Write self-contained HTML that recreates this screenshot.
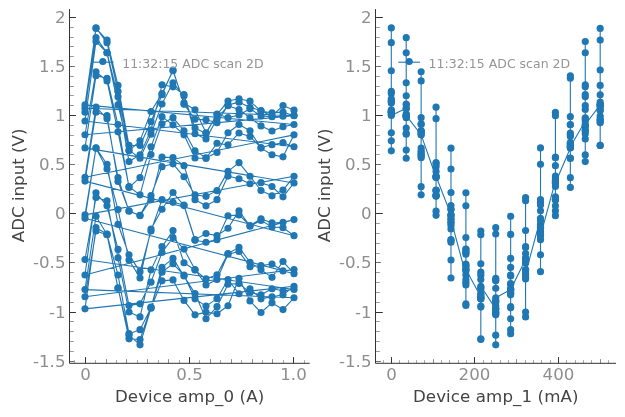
<!DOCTYPE html>
<html lang="en"><head><meta charset="utf-8"><title>ADC scan 2D</title>
<style>html,body{margin:0;padding:0;background:#fff}body{width:625px;height:417px;overflow:hidden}</style>
</head><body>
<svg width="625" height="417" viewBox="0 0 625 417" style="display:block">
<rect width="625" height="417" fill="#fff"/>
<g font-family='"DejaVu Sans", "Liberation Sans", sans-serif'>
<line x1="69.50" x2="74.90" y1="361.50" y2="361.50" stroke="#6e6e6e" stroke-width="1"/>
<text x="65.50" y="367.20" text-anchor="end" fill="#8e8e8e" font-size="16.67">-1.5</text>
<line x1="69.50" x2="73.80" y1="351.50" y2="351.50" stroke="#9a9a9a" stroke-width="1"/>
<line x1="69.50" x2="73.80" y1="341.50" y2="341.50" stroke="#9a9a9a" stroke-width="1"/>
<line x1="69.50" x2="73.80" y1="331.50" y2="331.50" stroke="#9a9a9a" stroke-width="1"/>
<line x1="69.50" x2="73.80" y1="321.50" y2="321.50" stroke="#9a9a9a" stroke-width="1"/>
<line x1="69.50" x2="75.90" y1="312.50" y2="312.50" stroke="#333333" stroke-width="1"/>
<text x="65.50" y="318.20" text-anchor="end" fill="#8e8e8e" font-size="16.67">-1</text>
<line x1="69.50" x2="73.80" y1="302.50" y2="302.50" stroke="#9a9a9a" stroke-width="1"/>
<line x1="69.50" x2="73.80" y1="292.50" y2="292.50" stroke="#9a9a9a" stroke-width="1"/>
<line x1="69.50" x2="73.80" y1="282.50" y2="282.50" stroke="#9a9a9a" stroke-width="1"/>
<line x1="69.50" x2="73.80" y1="272.50" y2="272.50" stroke="#9a9a9a" stroke-width="1"/>
<line x1="69.50" x2="74.90" y1="262.50" y2="262.50" stroke="#6e6e6e" stroke-width="1"/>
<text x="65.50" y="268.20" text-anchor="end" fill="#8e8e8e" font-size="16.67">-0.5</text>
<line x1="69.50" x2="73.80" y1="253.50" y2="253.50" stroke="#9a9a9a" stroke-width="1"/>
<line x1="69.50" x2="73.80" y1="243.50" y2="243.50" stroke="#9a9a9a" stroke-width="1"/>
<line x1="69.50" x2="73.80" y1="233.50" y2="233.50" stroke="#9a9a9a" stroke-width="1"/>
<line x1="69.50" x2="73.80" y1="223.50" y2="223.50" stroke="#9a9a9a" stroke-width="1"/>
<line x1="69.50" x2="75.90" y1="213.50" y2="213.50" stroke="#333333" stroke-width="1"/>
<text x="65.50" y="219.20" text-anchor="end" fill="#8e8e8e" font-size="16.67">0</text>
<line x1="69.50" x2="73.80" y1="203.50" y2="203.50" stroke="#9a9a9a" stroke-width="1"/>
<line x1="69.50" x2="73.80" y1="194.50" y2="194.50" stroke="#9a9a9a" stroke-width="1"/>
<line x1="69.50" x2="73.80" y1="184.50" y2="184.50" stroke="#9a9a9a" stroke-width="1"/>
<line x1="69.50" x2="73.80" y1="174.50" y2="174.50" stroke="#9a9a9a" stroke-width="1"/>
<line x1="69.50" x2="74.90" y1="164.50" y2="164.50" stroke="#6e6e6e" stroke-width="1"/>
<text x="65.50" y="170.20" text-anchor="end" fill="#8e8e8e" font-size="16.67">0.5</text>
<line x1="69.50" x2="73.80" y1="154.50" y2="154.50" stroke="#9a9a9a" stroke-width="1"/>
<line x1="69.50" x2="73.80" y1="145.50" y2="145.50" stroke="#9a9a9a" stroke-width="1"/>
<line x1="69.50" x2="73.80" y1="135.50" y2="135.50" stroke="#9a9a9a" stroke-width="1"/>
<line x1="69.50" x2="73.80" y1="125.50" y2="125.50" stroke="#9a9a9a" stroke-width="1"/>
<line x1="69.50" x2="75.90" y1="115.50" y2="115.50" stroke="#333333" stroke-width="1"/>
<text x="65.50" y="121.20" text-anchor="end" fill="#8e8e8e" font-size="16.67">1</text>
<line x1="69.50" x2="73.80" y1="105.50" y2="105.50" stroke="#9a9a9a" stroke-width="1"/>
<line x1="69.50" x2="73.80" y1="95.50" y2="95.50" stroke="#9a9a9a" stroke-width="1"/>
<line x1="69.50" x2="73.80" y1="86.50" y2="86.50" stroke="#9a9a9a" stroke-width="1"/>
<line x1="69.50" x2="73.80" y1="76.50" y2="76.50" stroke="#9a9a9a" stroke-width="1"/>
<line x1="69.50" x2="74.90" y1="66.50" y2="66.50" stroke="#6e6e6e" stroke-width="1"/>
<text x="65.50" y="72.20" text-anchor="end" fill="#8e8e8e" font-size="16.67">1.5</text>
<line x1="69.50" x2="73.80" y1="56.50" y2="56.50" stroke="#9a9a9a" stroke-width="1"/>
<line x1="69.50" x2="73.80" y1="46.50" y2="46.50" stroke="#9a9a9a" stroke-width="1"/>
<line x1="69.50" x2="73.80" y1="37.50" y2="37.50" stroke="#9a9a9a" stroke-width="1"/>
<line x1="69.50" x2="73.80" y1="27.50" y2="27.50" stroke="#9a9a9a" stroke-width="1"/>
<line x1="69.50" x2="75.90" y1="17.50" y2="17.50" stroke="#333333" stroke-width="1"/>
<text x="65.50" y="23.20" text-anchor="end" fill="#8e8e8e" font-size="16.67">2</text>
<line x1="74.50" x2="74.50" y1="363.30" y2="360.10" stroke="#a0a0a0" stroke-width="0.9"/>
<line x1="85.50" x2="85.50" y1="363.30" y2="357.10" stroke="#333333" stroke-width="1"/>
<text x="85.50" y="380.25" text-anchor="middle" fill="#8e8e8e" font-size="16.67">0</text>
<line x1="95.50" x2="95.50" y1="363.30" y2="360.10" stroke="#a0a0a0" stroke-width="0.9"/>
<line x1="106.50" x2="106.50" y1="363.30" y2="359.10" stroke="#808080" stroke-width="0.9"/>
<line x1="116.50" x2="116.50" y1="363.30" y2="360.10" stroke="#a0a0a0" stroke-width="0.9"/>
<line x1="126.50" x2="126.50" y1="363.30" y2="359.10" stroke="#808080" stroke-width="0.9"/>
<line x1="137.50" x2="137.50" y1="363.30" y2="360.10" stroke="#a0a0a0" stroke-width="0.9"/>
<line x1="147.50" x2="147.50" y1="363.30" y2="359.10" stroke="#808080" stroke-width="0.9"/>
<line x1="158.50" x2="158.50" y1="363.30" y2="360.10" stroke="#a0a0a0" stroke-width="0.9"/>
<line x1="168.50" x2="168.50" y1="363.30" y2="359.10" stroke="#808080" stroke-width="0.9"/>
<line x1="179.50" x2="179.50" y1="363.30" y2="360.10" stroke="#a0a0a0" stroke-width="0.9"/>
<line x1="189.50" x2="189.50" y1="363.30" y2="357.10" stroke="#333333" stroke-width="1"/>
<text x="189.50" y="380.25" text-anchor="middle" fill="#8e8e8e" font-size="16.67">0.5</text>
<line x1="199.50" x2="199.50" y1="363.30" y2="360.10" stroke="#a0a0a0" stroke-width="0.9"/>
<line x1="210.50" x2="210.50" y1="363.30" y2="359.10" stroke="#808080" stroke-width="0.9"/>
<line x1="220.50" x2="220.50" y1="363.30" y2="360.10" stroke="#a0a0a0" stroke-width="0.9"/>
<line x1="231.50" x2="231.50" y1="363.30" y2="359.10" stroke="#808080" stroke-width="0.9"/>
<line x1="241.50" x2="241.50" y1="363.30" y2="360.10" stroke="#a0a0a0" stroke-width="0.9"/>
<line x1="252.50" x2="252.50" y1="363.30" y2="359.10" stroke="#808080" stroke-width="0.9"/>
<line x1="262.50" x2="262.50" y1="363.30" y2="360.10" stroke="#a0a0a0" stroke-width="0.9"/>
<line x1="272.50" x2="272.50" y1="363.30" y2="359.10" stroke="#808080" stroke-width="0.9"/>
<line x1="283.50" x2="283.50" y1="363.30" y2="360.10" stroke="#a0a0a0" stroke-width="0.9"/>
<line x1="293.50" x2="293.50" y1="363.30" y2="357.10" stroke="#333333" stroke-width="1"/>
<text x="293.50" y="380.25" text-anchor="middle" fill="#8e8e8e" font-size="16.67">1.0</text>
<line x1="304.50" x2="304.50" y1="363.30" y2="360.10" stroke="#a0a0a0" stroke-width="0.9"/>
<path d="M69.50 9.10V363.30H309.70" fill="none" stroke="#333333" stroke-width="1"/>
<text x="189.60" y="402" text-anchor="middle" fill="#444444" font-size="16.67" letter-spacing="0.09">Device amp_0 (A)</text>
<text transform="translate(24.30 185.40) rotate(-90)" text-anchor="middle" fill="#444444" font-size="16.67">ADC input (V)</text>
<polyline points="85.00,112.26 96.00,27.91 107.00,42.64 118.00,91.44 129.00,150.86 140.00,140.84 151.00,111.58 162.00,93.60 173.00,70.72 184.00,102.93 195.00,109.81 206.00,132.79 217.00,114.62 228.00,100.97 239.00,98.71 250.00,101.17 261.00,111.18 272.00,112.85 283.00,112.16 294.00,115.50 85.00,108.24 96.00,37.63 107.00,52.85 118.00,104.90 129.00,150.07 140.00,158.22 151.00,134.16 162.00,104.01 173.00,82.80 184.00,95.77 195.00,128.07 206.00,133.38 217.00,114.03 228.00,117.66 239.00,114.91 250.00,108.83 261.00,115.90 272.00,116.78 283.00,116.19 294.00,115.70 85.00,134.75 96.00,71.71 107.00,80.94 118.00,131.80 129.00,186.70 140.00,194.85 151.00,154.59 162.00,123.85 173.00,117.66 184.00,130.82 195.00,150.95 206.00,157.73 217.00,152.43 228.00,132.79 239.00,124.54 250.00,130.72 261.00,148.11 272.00,154.78 283.00,156.85 294.00,134.85 85.00,177.27 96.00,107.16 107.00,118.65 118.00,177.57 129.00,211.15 140.00,215.37 151.00,195.54 162.00,166.67 173.00,163.82 184.00,176.78 195.00,194.95 206.00,196.32 217.00,190.63 228.00,171.38 239.00,162.64 250.00,176.29 261.00,190.53 272.00,195.83 283.00,190.04 294.00,176.29 85.00,214.88 96.00,148.20 107.00,169.02 118.00,209.58 129.00,259.96 140.00,278.02 151.00,229.02 162.00,209.28 173.00,192.49 184.00,205.55 195.00,240.32 206.00,242.28 217.00,239.63 228.00,215.77 239.00,214.88 250.00,225.59 261.00,218.81 272.00,222.93 283.00,222.25 294.00,219.60 85.00,274.98 96.00,192.79 107.00,205.85 118.00,249.45 129.00,305.52 140.00,303.85 151.00,282.15 162.00,252.49 173.00,237.57 184.00,249.06 195.00,269.48 206.00,284.90 217.00,279.50 228.00,254.16 239.00,251.51 250.00,266.63 261.00,265.55 272.00,263.98 283.00,270.95 294.00,269.58 85.00,296.78 96.00,230.99 107.00,234.72 118.00,287.75 129.00,338.81 140.00,339.50 151.00,307.09 162.00,272.13 173.00,263.79 184.00,275.18 195.00,298.84 206.00,306.11 217.00,298.65 228.00,279.50 239.00,293.74 250.00,288.83 261.00,298.84 272.00,296.78 283.00,294.82 294.00,286.27 85.00,308.86 96.00,227.65 107.00,234.03 118.00,288.24 129.00,335.18 140.00,344.80 151.00,308.17 162.00,280.87 173.00,279.89 184.00,300.41 195.00,314.85 206.00,312.10 217.00,313.77 228.00,305.72 239.00,278.22 250.00,300.91 261.00,312.49 272.00,302.87 283.00,309.55 294.00,297.76 85.00,289.61 96.00,216.26 107.00,234.42 118.00,274.98 129.00,333.70 140.00,329.68 151.00,307.68 162.00,267.42 173.00,258.38 184.00,275.96 195.00,293.64 206.00,318.78 217.00,306.70 228.00,284.21 239.00,283.62 250.00,292.46 261.00,294.82 272.00,288.73 283.00,290.79 294.00,289.42 85.00,259.56 96.00,197.50 107.00,200.84 118.00,257.80 129.00,312.00 140.00,316.91 151.00,269.87 162.00,246.70 173.00,230.59 184.00,262.71 195.00,270.07 206.00,278.91 217.00,274.78 228.00,253.47 239.00,247.39 250.00,262.21 261.00,269.87 272.00,277.34 283.00,261.53 294.00,273.70 85.00,218.32 96.00,147.91 107.00,164.31 118.00,224.31 129.00,254.85 140.00,271.64 151.00,230.99 162.00,199.66 173.00,202.31 184.00,205.06 195.00,239.63 206.00,233.54 217.00,235.60 228.00,228.24 239.00,210.86 250.00,226.18 261.00,220.38 272.00,226.96 283.00,227.65 294.00,235.70 85.00,181.10 96.00,112.26 107.00,115.70 118.00,181.40 129.00,210.76 140.00,215.67 151.00,199.56 162.00,157.14 173.00,157.63 184.00,165.68 195.00,199.66 206.00,205.85 217.00,199.66 228.00,176.09 239.00,178.74 250.00,183.75 261.00,182.67 272.00,186.50 283.00,196.81 294.00,182.97 85.00,147.91 96.00,75.73 107.00,78.29 118.00,124.54 129.00,187.39 140.00,177.66 151.00,146.83 162.00,116.68 173.00,124.83 184.00,134.85 195.00,158.02 206.00,158.42 217.00,143.29 228.00,144.87 239.00,132.98 250.00,136.52 261.00,147.52 272.00,144.67 283.00,142.70 294.00,146.73 85.00,121.00 96.00,41.46 107.00,52.75 118.00,96.85 129.00,161.56 140.00,154.88 151.00,130.14 162.00,84.77 173.00,86.83 184.00,94.59 195.00,133.77 206.00,138.88 217.00,118.74 228.00,105.68 239.00,109.51 250.00,117.76 261.00,125.91 272.00,131.02 283.00,126.70 294.00,124.54 85.00,104.90 96.00,28.40 107.00,40.09 118.00,85.45 129.00,145.45 140.00,145.45 151.00,121.69 162.00,94.78 173.00,70.04 184.00,104.31 195.00,119.24 206.00,119.82 217.00,122.77 228.00,105.09 239.00,102.15 250.00,107.35 261.00,110.59 272.00,116.19 283.00,105.49 294.00,110.20" fill="none" stroke="#1f77b4" stroke-width="1.1" stroke-linejoin="round"/>
<g fill="#1f77b4"><circle cx="85.00" cy="112.26" r="3.58"/><circle cx="96.00" cy="27.91" r="3.58"/><circle cx="107.00" cy="42.64" r="3.58"/><circle cx="118.00" cy="91.44" r="3.58"/><circle cx="129.00" cy="150.86" r="3.58"/><circle cx="140.00" cy="140.84" r="3.58"/><circle cx="151.00" cy="111.58" r="3.58"/><circle cx="162.00" cy="93.60" r="3.58"/><circle cx="173.00" cy="70.72" r="3.58"/><circle cx="184.00" cy="102.93" r="3.58"/><circle cx="195.00" cy="109.81" r="3.58"/><circle cx="206.00" cy="132.79" r="3.58"/><circle cx="217.00" cy="114.62" r="3.58"/><circle cx="228.00" cy="100.97" r="3.58"/><circle cx="239.00" cy="98.71" r="3.58"/><circle cx="250.00" cy="101.17" r="3.58"/><circle cx="261.00" cy="111.18" r="3.58"/><circle cx="272.00" cy="112.85" r="3.58"/><circle cx="283.00" cy="112.16" r="3.58"/><circle cx="294.00" cy="115.50" r="3.58"/><circle cx="85.00" cy="108.24" r="3.58"/><circle cx="96.00" cy="37.63" r="3.58"/><circle cx="107.00" cy="52.85" r="3.58"/><circle cx="118.00" cy="104.90" r="3.58"/><circle cx="129.00" cy="150.07" r="3.58"/><circle cx="140.00" cy="158.22" r="3.58"/><circle cx="151.00" cy="134.16" r="3.58"/><circle cx="162.00" cy="104.01" r="3.58"/><circle cx="173.00" cy="82.80" r="3.58"/><circle cx="184.00" cy="95.77" r="3.58"/><circle cx="195.00" cy="128.07" r="3.58"/><circle cx="206.00" cy="133.38" r="3.58"/><circle cx="217.00" cy="114.03" r="3.58"/><circle cx="228.00" cy="117.66" r="3.58"/><circle cx="239.00" cy="114.91" r="3.58"/><circle cx="250.00" cy="108.83" r="3.58"/><circle cx="261.00" cy="115.90" r="3.58"/><circle cx="272.00" cy="116.78" r="3.58"/><circle cx="283.00" cy="116.19" r="3.58"/><circle cx="294.00" cy="115.70" r="3.58"/><circle cx="85.00" cy="134.75" r="3.58"/><circle cx="96.00" cy="71.71" r="3.58"/><circle cx="107.00" cy="80.94" r="3.58"/><circle cx="118.00" cy="131.80" r="3.58"/><circle cx="129.00" cy="186.70" r="3.58"/><circle cx="140.00" cy="194.85" r="3.58"/><circle cx="151.00" cy="154.59" r="3.58"/><circle cx="162.00" cy="123.85" r="3.58"/><circle cx="173.00" cy="117.66" r="3.58"/><circle cx="184.00" cy="130.82" r="3.58"/><circle cx="195.00" cy="150.95" r="3.58"/><circle cx="206.00" cy="157.73" r="3.58"/><circle cx="217.00" cy="152.43" r="3.58"/><circle cx="228.00" cy="132.79" r="3.58"/><circle cx="239.00" cy="124.54" r="3.58"/><circle cx="250.00" cy="130.72" r="3.58"/><circle cx="261.00" cy="148.11" r="3.58"/><circle cx="272.00" cy="154.78" r="3.58"/><circle cx="283.00" cy="156.85" r="3.58"/><circle cx="294.00" cy="134.85" r="3.58"/><circle cx="85.00" cy="177.27" r="3.58"/><circle cx="96.00" cy="107.16" r="3.58"/><circle cx="107.00" cy="118.65" r="3.58"/><circle cx="118.00" cy="177.57" r="3.58"/><circle cx="129.00" cy="211.15" r="3.58"/><circle cx="140.00" cy="215.37" r="3.58"/><circle cx="151.00" cy="195.54" r="3.58"/><circle cx="162.00" cy="166.67" r="3.58"/><circle cx="173.00" cy="163.82" r="3.58"/><circle cx="184.00" cy="176.78" r="3.58"/><circle cx="195.00" cy="194.95" r="3.58"/><circle cx="206.00" cy="196.32" r="3.58"/><circle cx="217.00" cy="190.63" r="3.58"/><circle cx="228.00" cy="171.38" r="3.58"/><circle cx="239.00" cy="162.64" r="3.58"/><circle cx="250.00" cy="176.29" r="3.58"/><circle cx="261.00" cy="190.53" r="3.58"/><circle cx="272.00" cy="195.83" r="3.58"/><circle cx="283.00" cy="190.04" r="3.58"/><circle cx="294.00" cy="176.29" r="3.58"/><circle cx="85.00" cy="214.88" r="3.58"/><circle cx="96.00" cy="148.20" r="3.58"/><circle cx="107.00" cy="169.02" r="3.58"/><circle cx="118.00" cy="209.58" r="3.58"/><circle cx="129.00" cy="259.96" r="3.58"/><circle cx="140.00" cy="278.02" r="3.58"/><circle cx="151.00" cy="229.02" r="3.58"/><circle cx="162.00" cy="209.28" r="3.58"/><circle cx="173.00" cy="192.49" r="3.58"/><circle cx="184.00" cy="205.55" r="3.58"/><circle cx="195.00" cy="240.32" r="3.58"/><circle cx="206.00" cy="242.28" r="3.58"/><circle cx="217.00" cy="239.63" r="3.58"/><circle cx="228.00" cy="215.77" r="3.58"/><circle cx="239.00" cy="214.88" r="3.58"/><circle cx="250.00" cy="225.59" r="3.58"/><circle cx="261.00" cy="218.81" r="3.58"/><circle cx="272.00" cy="222.93" r="3.58"/><circle cx="283.00" cy="222.25" r="3.58"/><circle cx="294.00" cy="219.60" r="3.58"/><circle cx="85.00" cy="274.98" r="3.58"/><circle cx="96.00" cy="192.79" r="3.58"/><circle cx="107.00" cy="205.85" r="3.58"/><circle cx="118.00" cy="249.45" r="3.58"/><circle cx="129.00" cy="305.52" r="3.58"/><circle cx="140.00" cy="303.85" r="3.58"/><circle cx="151.00" cy="282.15" r="3.58"/><circle cx="162.00" cy="252.49" r="3.58"/><circle cx="173.00" cy="237.57" r="3.58"/><circle cx="184.00" cy="249.06" r="3.58"/><circle cx="195.00" cy="269.48" r="3.58"/><circle cx="206.00" cy="284.90" r="3.58"/><circle cx="217.00" cy="279.50" r="3.58"/><circle cx="228.00" cy="254.16" r="3.58"/><circle cx="239.00" cy="251.51" r="3.58"/><circle cx="250.00" cy="266.63" r="3.58"/><circle cx="261.00" cy="265.55" r="3.58"/><circle cx="272.00" cy="263.98" r="3.58"/><circle cx="283.00" cy="270.95" r="3.58"/><circle cx="294.00" cy="269.58" r="3.58"/><circle cx="85.00" cy="296.78" r="3.58"/><circle cx="96.00" cy="230.99" r="3.58"/><circle cx="107.00" cy="234.72" r="3.58"/><circle cx="118.00" cy="287.75" r="3.58"/><circle cx="129.00" cy="338.81" r="3.58"/><circle cx="140.00" cy="339.50" r="3.58"/><circle cx="151.00" cy="307.09" r="3.58"/><circle cx="162.00" cy="272.13" r="3.58"/><circle cx="173.00" cy="263.79" r="3.58"/><circle cx="184.00" cy="275.18" r="3.58"/><circle cx="195.00" cy="298.84" r="3.58"/><circle cx="206.00" cy="306.11" r="3.58"/><circle cx="217.00" cy="298.65" r="3.58"/><circle cx="228.00" cy="279.50" r="3.58"/><circle cx="239.00" cy="293.74" r="3.58"/><circle cx="250.00" cy="288.83" r="3.58"/><circle cx="261.00" cy="298.84" r="3.58"/><circle cx="272.00" cy="296.78" r="3.58"/><circle cx="283.00" cy="294.82" r="3.58"/><circle cx="294.00" cy="286.27" r="3.58"/><circle cx="85.00" cy="308.86" r="3.58"/><circle cx="96.00" cy="227.65" r="3.58"/><circle cx="107.00" cy="234.03" r="3.58"/><circle cx="118.00" cy="288.24" r="3.58"/><circle cx="129.00" cy="335.18" r="3.58"/><circle cx="140.00" cy="344.80" r="3.58"/><circle cx="151.00" cy="308.17" r="3.58"/><circle cx="162.00" cy="280.87" r="3.58"/><circle cx="173.00" cy="279.89" r="3.58"/><circle cx="184.00" cy="300.41" r="3.58"/><circle cx="195.00" cy="314.85" r="3.58"/><circle cx="206.00" cy="312.10" r="3.58"/><circle cx="217.00" cy="313.77" r="3.58"/><circle cx="228.00" cy="305.72" r="3.58"/><circle cx="239.00" cy="278.22" r="3.58"/><circle cx="250.00" cy="300.91" r="3.58"/><circle cx="261.00" cy="312.49" r="3.58"/><circle cx="272.00" cy="302.87" r="3.58"/><circle cx="283.00" cy="309.55" r="3.58"/><circle cx="294.00" cy="297.76" r="3.58"/><circle cx="85.00" cy="289.61" r="3.58"/><circle cx="96.00" cy="216.26" r="3.58"/><circle cx="107.00" cy="234.42" r="3.58"/><circle cx="118.00" cy="274.98" r="3.58"/><circle cx="129.00" cy="333.70" r="3.58"/><circle cx="140.00" cy="329.68" r="3.58"/><circle cx="151.00" cy="307.68" r="3.58"/><circle cx="162.00" cy="267.42" r="3.58"/><circle cx="173.00" cy="258.38" r="3.58"/><circle cx="184.00" cy="275.96" r="3.58"/><circle cx="195.00" cy="293.64" r="3.58"/><circle cx="206.00" cy="318.78" r="3.58"/><circle cx="217.00" cy="306.70" r="3.58"/><circle cx="228.00" cy="284.21" r="3.58"/><circle cx="239.00" cy="283.62" r="3.58"/><circle cx="250.00" cy="292.46" r="3.58"/><circle cx="261.00" cy="294.82" r="3.58"/><circle cx="272.00" cy="288.73" r="3.58"/><circle cx="283.00" cy="290.79" r="3.58"/><circle cx="294.00" cy="289.42" r="3.58"/><circle cx="85.00" cy="259.56" r="3.58"/><circle cx="96.00" cy="197.50" r="3.58"/><circle cx="107.00" cy="200.84" r="3.58"/><circle cx="118.00" cy="257.80" r="3.58"/><circle cx="129.00" cy="312.00" r="3.58"/><circle cx="140.00" cy="316.91" r="3.58"/><circle cx="151.00" cy="269.87" r="3.58"/><circle cx="162.00" cy="246.70" r="3.58"/><circle cx="173.00" cy="230.59" r="3.58"/><circle cx="184.00" cy="262.71" r="3.58"/><circle cx="195.00" cy="270.07" r="3.58"/><circle cx="206.00" cy="278.91" r="3.58"/><circle cx="217.00" cy="274.78" r="3.58"/><circle cx="228.00" cy="253.47" r="3.58"/><circle cx="239.00" cy="247.39" r="3.58"/><circle cx="250.00" cy="262.21" r="3.58"/><circle cx="261.00" cy="269.87" r="3.58"/><circle cx="272.00" cy="277.34" r="3.58"/><circle cx="283.00" cy="261.53" r="3.58"/><circle cx="294.00" cy="273.70" r="3.58"/><circle cx="85.00" cy="218.32" r="3.58"/><circle cx="96.00" cy="147.91" r="3.58"/><circle cx="107.00" cy="164.31" r="3.58"/><circle cx="118.00" cy="224.31" r="3.58"/><circle cx="129.00" cy="254.85" r="3.58"/><circle cx="140.00" cy="271.64" r="3.58"/><circle cx="151.00" cy="230.99" r="3.58"/><circle cx="162.00" cy="199.66" r="3.58"/><circle cx="173.00" cy="202.31" r="3.58"/><circle cx="184.00" cy="205.06" r="3.58"/><circle cx="195.00" cy="239.63" r="3.58"/><circle cx="206.00" cy="233.54" r="3.58"/><circle cx="217.00" cy="235.60" r="3.58"/><circle cx="228.00" cy="228.24" r="3.58"/><circle cx="239.00" cy="210.86" r="3.58"/><circle cx="250.00" cy="226.18" r="3.58"/><circle cx="261.00" cy="220.38" r="3.58"/><circle cx="272.00" cy="226.96" r="3.58"/><circle cx="283.00" cy="227.65" r="3.58"/><circle cx="294.00" cy="235.70" r="3.58"/><circle cx="85.00" cy="181.10" r="3.58"/><circle cx="96.00" cy="112.26" r="3.58"/><circle cx="107.00" cy="115.70" r="3.58"/><circle cx="118.00" cy="181.40" r="3.58"/><circle cx="129.00" cy="210.76" r="3.58"/><circle cx="140.00" cy="215.67" r="3.58"/><circle cx="151.00" cy="199.56" r="3.58"/><circle cx="162.00" cy="157.14" r="3.58"/><circle cx="173.00" cy="157.63" r="3.58"/><circle cx="184.00" cy="165.68" r="3.58"/><circle cx="195.00" cy="199.66" r="3.58"/><circle cx="206.00" cy="205.85" r="3.58"/><circle cx="217.00" cy="199.66" r="3.58"/><circle cx="228.00" cy="176.09" r="3.58"/><circle cx="239.00" cy="178.74" r="3.58"/><circle cx="250.00" cy="183.75" r="3.58"/><circle cx="261.00" cy="182.67" r="3.58"/><circle cx="272.00" cy="186.50" r="3.58"/><circle cx="283.00" cy="196.81" r="3.58"/><circle cx="294.00" cy="182.97" r="3.58"/><circle cx="85.00" cy="147.91" r="3.58"/><circle cx="96.00" cy="75.73" r="3.58"/><circle cx="107.00" cy="78.29" r="3.58"/><circle cx="118.00" cy="124.54" r="3.58"/><circle cx="129.00" cy="187.39" r="3.58"/><circle cx="140.00" cy="177.66" r="3.58"/><circle cx="151.00" cy="146.83" r="3.58"/><circle cx="162.00" cy="116.68" r="3.58"/><circle cx="173.00" cy="124.83" r="3.58"/><circle cx="184.00" cy="134.85" r="3.58"/><circle cx="195.00" cy="158.02" r="3.58"/><circle cx="206.00" cy="158.42" r="3.58"/><circle cx="217.00" cy="143.29" r="3.58"/><circle cx="228.00" cy="144.87" r="3.58"/><circle cx="239.00" cy="132.98" r="3.58"/><circle cx="250.00" cy="136.52" r="3.58"/><circle cx="261.00" cy="147.52" r="3.58"/><circle cx="272.00" cy="144.67" r="3.58"/><circle cx="283.00" cy="142.70" r="3.58"/><circle cx="294.00" cy="146.73" r="3.58"/><circle cx="85.00" cy="121.00" r="3.58"/><circle cx="96.00" cy="41.46" r="3.58"/><circle cx="107.00" cy="52.75" r="3.58"/><circle cx="118.00" cy="96.85" r="3.58"/><circle cx="129.00" cy="161.56" r="3.58"/><circle cx="140.00" cy="154.88" r="3.58"/><circle cx="151.00" cy="130.14" r="3.58"/><circle cx="162.00" cy="84.77" r="3.58"/><circle cx="173.00" cy="86.83" r="3.58"/><circle cx="184.00" cy="94.59" r="3.58"/><circle cx="195.00" cy="133.77" r="3.58"/><circle cx="206.00" cy="138.88" r="3.58"/><circle cx="217.00" cy="118.74" r="3.58"/><circle cx="228.00" cy="105.68" r="3.58"/><circle cx="239.00" cy="109.51" r="3.58"/><circle cx="250.00" cy="117.76" r="3.58"/><circle cx="261.00" cy="125.91" r="3.58"/><circle cx="272.00" cy="131.02" r="3.58"/><circle cx="283.00" cy="126.70" r="3.58"/><circle cx="294.00" cy="124.54" r="3.58"/><circle cx="85.00" cy="104.90" r="3.58"/><circle cx="96.00" cy="28.40" r="3.58"/><circle cx="107.00" cy="40.09" r="3.58"/><circle cx="118.00" cy="85.45" r="3.58"/><circle cx="129.00" cy="145.45" r="3.58"/><circle cx="140.00" cy="145.45" r="3.58"/><circle cx="151.00" cy="121.69" r="3.58"/><circle cx="162.00" cy="94.78" r="3.58"/><circle cx="173.00" cy="70.04" r="3.58"/><circle cx="184.00" cy="104.31" r="3.58"/><circle cx="195.00" cy="119.24" r="3.58"/><circle cx="206.00" cy="119.82" r="3.58"/><circle cx="217.00" cy="122.77" r="3.58"/><circle cx="228.00" cy="105.09" r="3.58"/><circle cx="239.00" cy="102.15" r="3.58"/><circle cx="250.00" cy="107.35" r="3.58"/><circle cx="261.00" cy="110.59" r="3.58"/><circle cx="272.00" cy="116.19" r="3.58"/><circle cx="283.00" cy="105.49" r="3.58"/><circle cx="294.00" cy="110.20" r="3.58"/></g>
<line x1="91.80" x2="113.60" y1="62.2" y2="62.2" stroke="#1f77b4" stroke-width="1.1"/>
<circle cx="102.8" cy="61.5" r="3.58" fill="#1f77b4"/>
<text x="122.20" y="68.30" fill="#959595" font-size="12.5">11:32:15 ADC scan 2D</text>
<line x1="375.50" x2="380.90" y1="361.50" y2="361.50" stroke="#6e6e6e" stroke-width="1"/>
<text x="371.50" y="367.20" text-anchor="end" fill="#8e8e8e" font-size="16.67">-1.5</text>
<line x1="375.50" x2="379.80" y1="351.50" y2="351.50" stroke="#9a9a9a" stroke-width="1"/>
<line x1="375.50" x2="379.80" y1="341.50" y2="341.50" stroke="#9a9a9a" stroke-width="1"/>
<line x1="375.50" x2="379.80" y1="331.50" y2="331.50" stroke="#9a9a9a" stroke-width="1"/>
<line x1="375.50" x2="379.80" y1="321.50" y2="321.50" stroke="#9a9a9a" stroke-width="1"/>
<line x1="375.50" x2="382.80" y1="312.50" y2="312.50" stroke="#333333" stroke-width="1"/>
<text x="371.50" y="318.20" text-anchor="end" fill="#8e8e8e" font-size="16.67">-1</text>
<line x1="375.50" x2="379.80" y1="302.50" y2="302.50" stroke="#9a9a9a" stroke-width="1"/>
<line x1="375.50" x2="379.80" y1="292.50" y2="292.50" stroke="#9a9a9a" stroke-width="1"/>
<line x1="375.50" x2="379.80" y1="282.50" y2="282.50" stroke="#9a9a9a" stroke-width="1"/>
<line x1="375.50" x2="379.80" y1="272.50" y2="272.50" stroke="#9a9a9a" stroke-width="1"/>
<line x1="375.50" x2="380.90" y1="262.50" y2="262.50" stroke="#6e6e6e" stroke-width="1"/>
<text x="371.50" y="268.20" text-anchor="end" fill="#8e8e8e" font-size="16.67">-0.5</text>
<line x1="375.50" x2="379.80" y1="253.50" y2="253.50" stroke="#9a9a9a" stroke-width="1"/>
<line x1="375.50" x2="379.80" y1="243.50" y2="243.50" stroke="#9a9a9a" stroke-width="1"/>
<line x1="375.50" x2="379.80" y1="233.50" y2="233.50" stroke="#9a9a9a" stroke-width="1"/>
<line x1="375.50" x2="379.80" y1="223.50" y2="223.50" stroke="#9a9a9a" stroke-width="1"/>
<line x1="375.50" x2="382.80" y1="213.50" y2="213.50" stroke="#333333" stroke-width="1"/>
<text x="371.50" y="219.20" text-anchor="end" fill="#8e8e8e" font-size="16.67">0</text>
<line x1="375.50" x2="379.80" y1="203.50" y2="203.50" stroke="#9a9a9a" stroke-width="1"/>
<line x1="375.50" x2="379.80" y1="194.50" y2="194.50" stroke="#9a9a9a" stroke-width="1"/>
<line x1="375.50" x2="379.80" y1="184.50" y2="184.50" stroke="#9a9a9a" stroke-width="1"/>
<line x1="375.50" x2="379.80" y1="174.50" y2="174.50" stroke="#9a9a9a" stroke-width="1"/>
<line x1="375.50" x2="380.90" y1="164.50" y2="164.50" stroke="#6e6e6e" stroke-width="1"/>
<text x="371.50" y="170.20" text-anchor="end" fill="#8e8e8e" font-size="16.67">0.5</text>
<line x1="375.50" x2="379.80" y1="154.50" y2="154.50" stroke="#9a9a9a" stroke-width="1"/>
<line x1="375.50" x2="379.80" y1="145.50" y2="145.50" stroke="#9a9a9a" stroke-width="1"/>
<line x1="375.50" x2="379.80" y1="135.50" y2="135.50" stroke="#9a9a9a" stroke-width="1"/>
<line x1="375.50" x2="379.80" y1="125.50" y2="125.50" stroke="#9a9a9a" stroke-width="1"/>
<line x1="375.50" x2="382.80" y1="115.50" y2="115.50" stroke="#333333" stroke-width="1"/>
<text x="371.50" y="121.20" text-anchor="end" fill="#8e8e8e" font-size="16.67">1</text>
<line x1="375.50" x2="379.80" y1="105.50" y2="105.50" stroke="#9a9a9a" stroke-width="1"/>
<line x1="375.50" x2="379.80" y1="95.50" y2="95.50" stroke="#9a9a9a" stroke-width="1"/>
<line x1="375.50" x2="379.80" y1="86.50" y2="86.50" stroke="#9a9a9a" stroke-width="1"/>
<line x1="375.50" x2="379.80" y1="76.50" y2="76.50" stroke="#9a9a9a" stroke-width="1"/>
<line x1="375.50" x2="380.90" y1="66.50" y2="66.50" stroke="#6e6e6e" stroke-width="1"/>
<text x="371.50" y="72.20" text-anchor="end" fill="#8e8e8e" font-size="16.67">1.5</text>
<line x1="375.50" x2="379.80" y1="56.50" y2="56.50" stroke="#9a9a9a" stroke-width="1"/>
<line x1="375.50" x2="379.80" y1="46.50" y2="46.50" stroke="#9a9a9a" stroke-width="1"/>
<line x1="375.50" x2="379.80" y1="37.50" y2="37.50" stroke="#9a9a9a" stroke-width="1"/>
<line x1="375.50" x2="379.80" y1="27.50" y2="27.50" stroke="#9a9a9a" stroke-width="1"/>
<line x1="375.50" x2="382.80" y1="17.50" y2="17.50" stroke="#333333" stroke-width="1"/>
<text x="371.50" y="23.20" text-anchor="end" fill="#8e8e8e" font-size="16.67">2</text>
<line x1="383.50" x2="383.50" y1="363.30" y2="360.10" stroke="#a0a0a0" stroke-width="0.9"/>
<line x1="391.50" x2="391.50" y1="363.30" y2="357.10" stroke="#333333" stroke-width="1"/>
<text x="391.50" y="380.25" text-anchor="middle" fill="#8e8e8e" font-size="16.67">0</text>
<line x1="399.50" x2="399.50" y1="363.30" y2="360.10" stroke="#a0a0a0" stroke-width="0.9"/>
<line x1="408.50" x2="408.50" y1="363.30" y2="360.10" stroke="#a0a0a0" stroke-width="0.9"/>
<line x1="416.50" x2="416.50" y1="363.30" y2="360.10" stroke="#a0a0a0" stroke-width="0.9"/>
<line x1="424.50" x2="424.50" y1="363.30" y2="360.10" stroke="#a0a0a0" stroke-width="0.9"/>
<line x1="433.50" x2="433.50" y1="363.30" y2="359.10" stroke="#808080" stroke-width="0.9"/>
<line x1="441.50" x2="441.50" y1="363.30" y2="360.10" stroke="#a0a0a0" stroke-width="0.9"/>
<line x1="449.50" x2="449.50" y1="363.30" y2="360.10" stroke="#a0a0a0" stroke-width="0.9"/>
<line x1="458.50" x2="458.50" y1="363.30" y2="360.10" stroke="#a0a0a0" stroke-width="0.9"/>
<line x1="466.50" x2="466.50" y1="363.30" y2="360.10" stroke="#a0a0a0" stroke-width="0.9"/>
<line x1="474.50" x2="474.50" y1="363.30" y2="357.10" stroke="#333333" stroke-width="1"/>
<text x="474.50" y="380.25" text-anchor="middle" fill="#8e8e8e" font-size="16.67">200</text>
<line x1="483.50" x2="483.50" y1="363.30" y2="360.10" stroke="#a0a0a0" stroke-width="0.9"/>
<line x1="491.50" x2="491.50" y1="363.30" y2="360.10" stroke="#a0a0a0" stroke-width="0.9"/>
<line x1="500.50" x2="500.50" y1="363.30" y2="360.10" stroke="#a0a0a0" stroke-width="0.9"/>
<line x1="508.50" x2="508.50" y1="363.30" y2="360.10" stroke="#a0a0a0" stroke-width="0.9"/>
<line x1="516.50" x2="516.50" y1="363.30" y2="359.10" stroke="#808080" stroke-width="0.9"/>
<line x1="525.50" x2="525.50" y1="363.30" y2="360.10" stroke="#a0a0a0" stroke-width="0.9"/>
<line x1="533.50" x2="533.50" y1="363.30" y2="360.10" stroke="#a0a0a0" stroke-width="0.9"/>
<line x1="541.50" x2="541.50" y1="363.30" y2="360.10" stroke="#a0a0a0" stroke-width="0.9"/>
<line x1="550.50" x2="550.50" y1="363.30" y2="360.10" stroke="#a0a0a0" stroke-width="0.9"/>
<line x1="558.50" x2="558.50" y1="363.30" y2="357.10" stroke="#333333" stroke-width="1"/>
<text x="558.50" y="380.25" text-anchor="middle" fill="#8e8e8e" font-size="16.67">400</text>
<line x1="566.50" x2="566.50" y1="363.30" y2="360.10" stroke="#a0a0a0" stroke-width="0.9"/>
<line x1="575.50" x2="575.50" y1="363.30" y2="360.10" stroke="#a0a0a0" stroke-width="0.9"/>
<line x1="583.50" x2="583.50" y1="363.30" y2="360.10" stroke="#a0a0a0" stroke-width="0.9"/>
<line x1="591.50" x2="591.50" y1="363.30" y2="360.10" stroke="#a0a0a0" stroke-width="0.9"/>
<line x1="600.50" x2="600.50" y1="363.30" y2="359.10" stroke="#808080" stroke-width="0.9"/>
<line x1="608.50" x2="608.50" y1="363.30" y2="360.10" stroke="#a0a0a0" stroke-width="0.9"/>
<path d="M375.50 9.10V363.30H616.00" fill="none" stroke="#333333" stroke-width="1"/>
<text x="495.75" y="402" text-anchor="middle" fill="#444444" font-size="16.67" letter-spacing="0.09">Device amp_1 (mA)</text>
<text transform="translate(330.30 185.40) rotate(-90)" text-anchor="middle" fill="#444444" font-size="16.67">ADC input (V)</text>
<polyline points="391.30,112.26 391.30,27.91 391.30,42.64 391.30,91.44 391.30,150.86 391.30,140.84 391.30,111.58 391.30,93.60 391.30,70.72 391.30,102.93 391.30,109.81 391.30,132.79 391.30,114.62 391.30,100.97 391.30,98.71 391.30,101.17 391.30,111.18 391.30,112.85 391.30,112.16 391.30,115.50 406.22,108.24 406.22,37.63 406.22,52.85 406.22,104.90 406.22,150.07 406.22,158.22 406.22,134.16 406.22,104.01 406.22,82.80 406.22,95.77 406.22,128.07 406.22,133.38 406.22,114.03 406.22,117.66 406.22,114.91 406.22,108.83 406.22,115.90 406.22,116.78 406.22,116.19 406.22,115.70 421.14,134.75 421.14,71.71 421.14,80.94 421.14,131.80 421.14,186.70 421.14,194.85 421.14,154.59 421.14,123.85 421.14,117.66 421.14,130.82 421.14,150.95 421.14,157.73 421.14,152.43 421.14,132.79 421.14,124.54 421.14,130.72 421.14,148.11 421.14,154.78 421.14,156.85 421.14,134.85 436.06,177.27 436.06,107.16 436.06,118.65 436.06,177.57 436.06,211.15 436.06,215.37 436.06,195.54 436.06,166.67 436.06,163.82 436.06,176.78 436.06,194.95 436.06,196.32 436.06,190.63 436.06,171.38 436.06,162.64 436.06,176.29 436.06,190.53 436.06,195.83 436.06,190.04 436.06,176.29 450.98,214.88 450.98,148.20 450.98,169.02 450.98,209.58 450.98,259.96 450.98,278.02 450.98,229.02 450.98,209.28 450.98,192.49 450.98,205.55 450.98,240.32 450.98,242.28 450.98,239.63 450.98,215.77 450.98,214.88 450.98,225.59 450.98,218.81 450.98,222.93 450.98,222.25 450.98,219.60 465.90,274.98 465.90,192.79 465.90,205.85 465.90,249.45 465.90,305.52 465.90,303.85 465.90,282.15 465.90,252.49 465.90,237.57 465.90,249.06 465.90,269.48 465.90,284.90 465.90,279.50 465.90,254.16 465.90,251.51 465.90,266.63 465.90,265.55 465.90,263.98 465.90,270.95 465.90,269.58 480.82,296.78 480.82,230.99 480.82,234.72 480.82,287.75 480.82,338.81 480.82,339.50 480.82,307.09 480.82,272.13 480.82,263.79 480.82,275.18 480.82,298.84 480.82,306.11 480.82,298.65 480.82,279.50 480.82,293.74 480.82,288.83 480.82,298.84 480.82,296.78 480.82,294.82 480.82,286.27 495.74,308.86 495.74,227.65 495.74,234.03 495.74,288.24 495.74,335.18 495.74,344.80 495.74,308.17 495.74,280.87 495.74,279.89 495.74,300.41 495.74,314.85 495.74,312.10 495.74,313.77 495.74,305.72 495.74,278.22 495.74,300.91 495.74,312.49 495.74,302.87 495.74,309.55 495.74,297.76 510.66,289.61 510.66,216.26 510.66,234.42 510.66,274.98 510.66,333.70 510.66,329.68 510.66,307.68 510.66,267.42 510.66,258.38 510.66,275.96 510.66,293.64 510.66,318.78 510.66,306.70 510.66,284.21 510.66,283.62 510.66,292.46 510.66,294.82 510.66,288.73 510.66,290.79 510.66,289.42 525.58,259.56 525.58,197.50 525.58,200.84 525.58,257.80 525.58,312.00 525.58,316.91 525.58,269.87 525.58,246.70 525.58,230.59 525.58,262.71 525.58,270.07 525.58,278.91 525.58,274.78 525.58,253.47 525.58,247.39 525.58,262.21 525.58,269.87 525.58,277.34 525.58,261.53 525.58,273.70 540.50,218.32 540.50,147.91 540.50,164.31 540.50,224.31 540.50,254.85 540.50,271.64 540.50,230.99 540.50,199.66 540.50,202.31 540.50,205.06 540.50,239.63 540.50,233.54 540.50,235.60 540.50,228.24 540.50,210.86 540.50,226.18 540.50,220.38 540.50,226.96 540.50,227.65 540.50,235.70 555.42,181.10 555.42,112.26 555.42,115.70 555.42,181.40 555.42,210.76 555.42,215.67 555.42,199.56 555.42,157.14 555.42,157.63 555.42,165.68 555.42,199.66 555.42,205.85 555.42,199.66 555.42,176.09 555.42,178.74 555.42,183.75 555.42,182.67 555.42,186.50 555.42,196.81 555.42,182.97 570.34,147.91 570.34,75.73 570.34,78.29 570.34,124.54 570.34,187.39 570.34,177.66 570.34,146.83 570.34,116.68 570.34,124.83 570.34,134.85 570.34,158.02 570.34,158.42 570.34,143.29 570.34,144.87 570.34,132.98 570.34,136.52 570.34,147.52 570.34,144.67 570.34,142.70 570.34,146.73 585.26,121.00 585.26,41.46 585.26,52.75 585.26,96.85 585.26,161.56 585.26,154.88 585.26,130.14 585.26,84.77 585.26,86.83 585.26,94.59 585.26,133.77 585.26,138.88 585.26,118.74 585.26,105.68 585.26,109.51 585.26,117.76 585.26,125.91 585.26,131.02 585.26,126.70 585.26,124.54 600.18,104.90 600.18,28.40 600.18,40.09 600.18,85.45 600.18,145.45 600.18,145.45 600.18,121.69 600.18,94.78 600.18,70.04 600.18,104.31 600.18,119.24 600.18,119.82 600.18,122.77 600.18,105.09 600.18,102.15 600.18,107.35 600.18,110.59 600.18,116.19 600.18,105.49 600.18,110.20" fill="none" stroke="#1f77b4" stroke-width="1.1" stroke-linejoin="round"/>
<g fill="#1f77b4"><circle cx="391.30" cy="112.26" r="3.58"/><circle cx="391.30" cy="27.91" r="3.58"/><circle cx="391.30" cy="42.64" r="3.58"/><circle cx="391.30" cy="91.44" r="3.58"/><circle cx="391.30" cy="150.86" r="3.58"/><circle cx="391.30" cy="140.84" r="3.58"/><circle cx="391.30" cy="111.58" r="3.58"/><circle cx="391.30" cy="93.60" r="3.58"/><circle cx="391.30" cy="70.72" r="3.58"/><circle cx="391.30" cy="102.93" r="3.58"/><circle cx="391.30" cy="109.81" r="3.58"/><circle cx="391.30" cy="132.79" r="3.58"/><circle cx="391.30" cy="114.62" r="3.58"/><circle cx="391.30" cy="100.97" r="3.58"/><circle cx="391.30" cy="98.71" r="3.58"/><circle cx="391.30" cy="101.17" r="3.58"/><circle cx="391.30" cy="111.18" r="3.58"/><circle cx="391.30" cy="112.85" r="3.58"/><circle cx="391.30" cy="112.16" r="3.58"/><circle cx="391.30" cy="115.50" r="3.58"/><circle cx="406.22" cy="108.24" r="3.58"/><circle cx="406.22" cy="37.63" r="3.58"/><circle cx="406.22" cy="52.85" r="3.58"/><circle cx="406.22" cy="104.90" r="3.58"/><circle cx="406.22" cy="150.07" r="3.58"/><circle cx="406.22" cy="158.22" r="3.58"/><circle cx="406.22" cy="134.16" r="3.58"/><circle cx="406.22" cy="104.01" r="3.58"/><circle cx="406.22" cy="82.80" r="3.58"/><circle cx="406.22" cy="95.77" r="3.58"/><circle cx="406.22" cy="128.07" r="3.58"/><circle cx="406.22" cy="133.38" r="3.58"/><circle cx="406.22" cy="114.03" r="3.58"/><circle cx="406.22" cy="117.66" r="3.58"/><circle cx="406.22" cy="114.91" r="3.58"/><circle cx="406.22" cy="108.83" r="3.58"/><circle cx="406.22" cy="115.90" r="3.58"/><circle cx="406.22" cy="116.78" r="3.58"/><circle cx="406.22" cy="116.19" r="3.58"/><circle cx="406.22" cy="115.70" r="3.58"/><circle cx="421.14" cy="134.75" r="3.58"/><circle cx="421.14" cy="71.71" r="3.58"/><circle cx="421.14" cy="80.94" r="3.58"/><circle cx="421.14" cy="131.80" r="3.58"/><circle cx="421.14" cy="186.70" r="3.58"/><circle cx="421.14" cy="194.85" r="3.58"/><circle cx="421.14" cy="154.59" r="3.58"/><circle cx="421.14" cy="123.85" r="3.58"/><circle cx="421.14" cy="117.66" r="3.58"/><circle cx="421.14" cy="130.82" r="3.58"/><circle cx="421.14" cy="150.95" r="3.58"/><circle cx="421.14" cy="157.73" r="3.58"/><circle cx="421.14" cy="152.43" r="3.58"/><circle cx="421.14" cy="132.79" r="3.58"/><circle cx="421.14" cy="124.54" r="3.58"/><circle cx="421.14" cy="130.72" r="3.58"/><circle cx="421.14" cy="148.11" r="3.58"/><circle cx="421.14" cy="154.78" r="3.58"/><circle cx="421.14" cy="156.85" r="3.58"/><circle cx="421.14" cy="134.85" r="3.58"/><circle cx="436.06" cy="177.27" r="3.58"/><circle cx="436.06" cy="107.16" r="3.58"/><circle cx="436.06" cy="118.65" r="3.58"/><circle cx="436.06" cy="177.57" r="3.58"/><circle cx="436.06" cy="211.15" r="3.58"/><circle cx="436.06" cy="215.37" r="3.58"/><circle cx="436.06" cy="195.54" r="3.58"/><circle cx="436.06" cy="166.67" r="3.58"/><circle cx="436.06" cy="163.82" r="3.58"/><circle cx="436.06" cy="176.78" r="3.58"/><circle cx="436.06" cy="194.95" r="3.58"/><circle cx="436.06" cy="196.32" r="3.58"/><circle cx="436.06" cy="190.63" r="3.58"/><circle cx="436.06" cy="171.38" r="3.58"/><circle cx="436.06" cy="162.64" r="3.58"/><circle cx="436.06" cy="176.29" r="3.58"/><circle cx="436.06" cy="190.53" r="3.58"/><circle cx="436.06" cy="195.83" r="3.58"/><circle cx="436.06" cy="190.04" r="3.58"/><circle cx="436.06" cy="176.29" r="3.58"/><circle cx="450.98" cy="214.88" r="3.58"/><circle cx="450.98" cy="148.20" r="3.58"/><circle cx="450.98" cy="169.02" r="3.58"/><circle cx="450.98" cy="209.58" r="3.58"/><circle cx="450.98" cy="259.96" r="3.58"/><circle cx="450.98" cy="278.02" r="3.58"/><circle cx="450.98" cy="229.02" r="3.58"/><circle cx="450.98" cy="209.28" r="3.58"/><circle cx="450.98" cy="192.49" r="3.58"/><circle cx="450.98" cy="205.55" r="3.58"/><circle cx="450.98" cy="240.32" r="3.58"/><circle cx="450.98" cy="242.28" r="3.58"/><circle cx="450.98" cy="239.63" r="3.58"/><circle cx="450.98" cy="215.77" r="3.58"/><circle cx="450.98" cy="214.88" r="3.58"/><circle cx="450.98" cy="225.59" r="3.58"/><circle cx="450.98" cy="218.81" r="3.58"/><circle cx="450.98" cy="222.93" r="3.58"/><circle cx="450.98" cy="222.25" r="3.58"/><circle cx="450.98" cy="219.60" r="3.58"/><circle cx="465.90" cy="274.98" r="3.58"/><circle cx="465.90" cy="192.79" r="3.58"/><circle cx="465.90" cy="205.85" r="3.58"/><circle cx="465.90" cy="249.45" r="3.58"/><circle cx="465.90" cy="305.52" r="3.58"/><circle cx="465.90" cy="303.85" r="3.58"/><circle cx="465.90" cy="282.15" r="3.58"/><circle cx="465.90" cy="252.49" r="3.58"/><circle cx="465.90" cy="237.57" r="3.58"/><circle cx="465.90" cy="249.06" r="3.58"/><circle cx="465.90" cy="269.48" r="3.58"/><circle cx="465.90" cy="284.90" r="3.58"/><circle cx="465.90" cy="279.50" r="3.58"/><circle cx="465.90" cy="254.16" r="3.58"/><circle cx="465.90" cy="251.51" r="3.58"/><circle cx="465.90" cy="266.63" r="3.58"/><circle cx="465.90" cy="265.55" r="3.58"/><circle cx="465.90" cy="263.98" r="3.58"/><circle cx="465.90" cy="270.95" r="3.58"/><circle cx="465.90" cy="269.58" r="3.58"/><circle cx="480.82" cy="296.78" r="3.58"/><circle cx="480.82" cy="230.99" r="3.58"/><circle cx="480.82" cy="234.72" r="3.58"/><circle cx="480.82" cy="287.75" r="3.58"/><circle cx="480.82" cy="338.81" r="3.58"/><circle cx="480.82" cy="339.50" r="3.58"/><circle cx="480.82" cy="307.09" r="3.58"/><circle cx="480.82" cy="272.13" r="3.58"/><circle cx="480.82" cy="263.79" r="3.58"/><circle cx="480.82" cy="275.18" r="3.58"/><circle cx="480.82" cy="298.84" r="3.58"/><circle cx="480.82" cy="306.11" r="3.58"/><circle cx="480.82" cy="298.65" r="3.58"/><circle cx="480.82" cy="279.50" r="3.58"/><circle cx="480.82" cy="293.74" r="3.58"/><circle cx="480.82" cy="288.83" r="3.58"/><circle cx="480.82" cy="298.84" r="3.58"/><circle cx="480.82" cy="296.78" r="3.58"/><circle cx="480.82" cy="294.82" r="3.58"/><circle cx="480.82" cy="286.27" r="3.58"/><circle cx="495.74" cy="308.86" r="3.58"/><circle cx="495.74" cy="227.65" r="3.58"/><circle cx="495.74" cy="234.03" r="3.58"/><circle cx="495.74" cy="288.24" r="3.58"/><circle cx="495.74" cy="335.18" r="3.58"/><circle cx="495.74" cy="344.80" r="3.58"/><circle cx="495.74" cy="308.17" r="3.58"/><circle cx="495.74" cy="280.87" r="3.58"/><circle cx="495.74" cy="279.89" r="3.58"/><circle cx="495.74" cy="300.41" r="3.58"/><circle cx="495.74" cy="314.85" r="3.58"/><circle cx="495.74" cy="312.10" r="3.58"/><circle cx="495.74" cy="313.77" r="3.58"/><circle cx="495.74" cy="305.72" r="3.58"/><circle cx="495.74" cy="278.22" r="3.58"/><circle cx="495.74" cy="300.91" r="3.58"/><circle cx="495.74" cy="312.49" r="3.58"/><circle cx="495.74" cy="302.87" r="3.58"/><circle cx="495.74" cy="309.55" r="3.58"/><circle cx="495.74" cy="297.76" r="3.58"/><circle cx="510.66" cy="289.61" r="3.58"/><circle cx="510.66" cy="216.26" r="3.58"/><circle cx="510.66" cy="234.42" r="3.58"/><circle cx="510.66" cy="274.98" r="3.58"/><circle cx="510.66" cy="333.70" r="3.58"/><circle cx="510.66" cy="329.68" r="3.58"/><circle cx="510.66" cy="307.68" r="3.58"/><circle cx="510.66" cy="267.42" r="3.58"/><circle cx="510.66" cy="258.38" r="3.58"/><circle cx="510.66" cy="275.96" r="3.58"/><circle cx="510.66" cy="293.64" r="3.58"/><circle cx="510.66" cy="318.78" r="3.58"/><circle cx="510.66" cy="306.70" r="3.58"/><circle cx="510.66" cy="284.21" r="3.58"/><circle cx="510.66" cy="283.62" r="3.58"/><circle cx="510.66" cy="292.46" r="3.58"/><circle cx="510.66" cy="294.82" r="3.58"/><circle cx="510.66" cy="288.73" r="3.58"/><circle cx="510.66" cy="290.79" r="3.58"/><circle cx="510.66" cy="289.42" r="3.58"/><circle cx="525.58" cy="259.56" r="3.58"/><circle cx="525.58" cy="197.50" r="3.58"/><circle cx="525.58" cy="200.84" r="3.58"/><circle cx="525.58" cy="257.80" r="3.58"/><circle cx="525.58" cy="312.00" r="3.58"/><circle cx="525.58" cy="316.91" r="3.58"/><circle cx="525.58" cy="269.87" r="3.58"/><circle cx="525.58" cy="246.70" r="3.58"/><circle cx="525.58" cy="230.59" r="3.58"/><circle cx="525.58" cy="262.71" r="3.58"/><circle cx="525.58" cy="270.07" r="3.58"/><circle cx="525.58" cy="278.91" r="3.58"/><circle cx="525.58" cy="274.78" r="3.58"/><circle cx="525.58" cy="253.47" r="3.58"/><circle cx="525.58" cy="247.39" r="3.58"/><circle cx="525.58" cy="262.21" r="3.58"/><circle cx="525.58" cy="269.87" r="3.58"/><circle cx="525.58" cy="277.34" r="3.58"/><circle cx="525.58" cy="261.53" r="3.58"/><circle cx="525.58" cy="273.70" r="3.58"/><circle cx="540.50" cy="218.32" r="3.58"/><circle cx="540.50" cy="147.91" r="3.58"/><circle cx="540.50" cy="164.31" r="3.58"/><circle cx="540.50" cy="224.31" r="3.58"/><circle cx="540.50" cy="254.85" r="3.58"/><circle cx="540.50" cy="271.64" r="3.58"/><circle cx="540.50" cy="230.99" r="3.58"/><circle cx="540.50" cy="199.66" r="3.58"/><circle cx="540.50" cy="202.31" r="3.58"/><circle cx="540.50" cy="205.06" r="3.58"/><circle cx="540.50" cy="239.63" r="3.58"/><circle cx="540.50" cy="233.54" r="3.58"/><circle cx="540.50" cy="235.60" r="3.58"/><circle cx="540.50" cy="228.24" r="3.58"/><circle cx="540.50" cy="210.86" r="3.58"/><circle cx="540.50" cy="226.18" r="3.58"/><circle cx="540.50" cy="220.38" r="3.58"/><circle cx="540.50" cy="226.96" r="3.58"/><circle cx="540.50" cy="227.65" r="3.58"/><circle cx="540.50" cy="235.70" r="3.58"/><circle cx="555.42" cy="181.10" r="3.58"/><circle cx="555.42" cy="112.26" r="3.58"/><circle cx="555.42" cy="115.70" r="3.58"/><circle cx="555.42" cy="181.40" r="3.58"/><circle cx="555.42" cy="210.76" r="3.58"/><circle cx="555.42" cy="215.67" r="3.58"/><circle cx="555.42" cy="199.56" r="3.58"/><circle cx="555.42" cy="157.14" r="3.58"/><circle cx="555.42" cy="157.63" r="3.58"/><circle cx="555.42" cy="165.68" r="3.58"/><circle cx="555.42" cy="199.66" r="3.58"/><circle cx="555.42" cy="205.85" r="3.58"/><circle cx="555.42" cy="199.66" r="3.58"/><circle cx="555.42" cy="176.09" r="3.58"/><circle cx="555.42" cy="178.74" r="3.58"/><circle cx="555.42" cy="183.75" r="3.58"/><circle cx="555.42" cy="182.67" r="3.58"/><circle cx="555.42" cy="186.50" r="3.58"/><circle cx="555.42" cy="196.81" r="3.58"/><circle cx="555.42" cy="182.97" r="3.58"/><circle cx="570.34" cy="147.91" r="3.58"/><circle cx="570.34" cy="75.73" r="3.58"/><circle cx="570.34" cy="78.29" r="3.58"/><circle cx="570.34" cy="124.54" r="3.58"/><circle cx="570.34" cy="187.39" r="3.58"/><circle cx="570.34" cy="177.66" r="3.58"/><circle cx="570.34" cy="146.83" r="3.58"/><circle cx="570.34" cy="116.68" r="3.58"/><circle cx="570.34" cy="124.83" r="3.58"/><circle cx="570.34" cy="134.85" r="3.58"/><circle cx="570.34" cy="158.02" r="3.58"/><circle cx="570.34" cy="158.42" r="3.58"/><circle cx="570.34" cy="143.29" r="3.58"/><circle cx="570.34" cy="144.87" r="3.58"/><circle cx="570.34" cy="132.98" r="3.58"/><circle cx="570.34" cy="136.52" r="3.58"/><circle cx="570.34" cy="147.52" r="3.58"/><circle cx="570.34" cy="144.67" r="3.58"/><circle cx="570.34" cy="142.70" r="3.58"/><circle cx="570.34" cy="146.73" r="3.58"/><circle cx="585.26" cy="121.00" r="3.58"/><circle cx="585.26" cy="41.46" r="3.58"/><circle cx="585.26" cy="52.75" r="3.58"/><circle cx="585.26" cy="96.85" r="3.58"/><circle cx="585.26" cy="161.56" r="3.58"/><circle cx="585.26" cy="154.88" r="3.58"/><circle cx="585.26" cy="130.14" r="3.58"/><circle cx="585.26" cy="84.77" r="3.58"/><circle cx="585.26" cy="86.83" r="3.58"/><circle cx="585.26" cy="94.59" r="3.58"/><circle cx="585.26" cy="133.77" r="3.58"/><circle cx="585.26" cy="138.88" r="3.58"/><circle cx="585.26" cy="118.74" r="3.58"/><circle cx="585.26" cy="105.68" r="3.58"/><circle cx="585.26" cy="109.51" r="3.58"/><circle cx="585.26" cy="117.76" r="3.58"/><circle cx="585.26" cy="125.91" r="3.58"/><circle cx="585.26" cy="131.02" r="3.58"/><circle cx="585.26" cy="126.70" r="3.58"/><circle cx="585.26" cy="124.54" r="3.58"/><circle cx="600.18" cy="104.90" r="3.58"/><circle cx="600.18" cy="28.40" r="3.58"/><circle cx="600.18" cy="40.09" r="3.58"/><circle cx="600.18" cy="85.45" r="3.58"/><circle cx="600.18" cy="145.45" r="3.58"/><circle cx="600.18" cy="145.45" r="3.58"/><circle cx="600.18" cy="121.69" r="3.58"/><circle cx="600.18" cy="94.78" r="3.58"/><circle cx="600.18" cy="70.04" r="3.58"/><circle cx="600.18" cy="104.31" r="3.58"/><circle cx="600.18" cy="119.24" r="3.58"/><circle cx="600.18" cy="119.82" r="3.58"/><circle cx="600.18" cy="122.77" r="3.58"/><circle cx="600.18" cy="105.09" r="3.58"/><circle cx="600.18" cy="102.15" r="3.58"/><circle cx="600.18" cy="107.35" r="3.58"/><circle cx="600.18" cy="110.59" r="3.58"/><circle cx="600.18" cy="116.19" r="3.58"/><circle cx="600.18" cy="105.49" r="3.58"/><circle cx="600.18" cy="110.20" r="3.58"/></g>
<line x1="398.20" x2="420.00" y1="62.2" y2="62.2" stroke="#1f77b4" stroke-width="1.1"/>
<circle cx="409.2" cy="61.5" r="3.58" fill="#1f77b4"/>
<text x="428.60" y="68.30" fill="#959595" font-size="12.5">11:32:15 ADC scan 2D</text>
</g></svg>
</body></html>
